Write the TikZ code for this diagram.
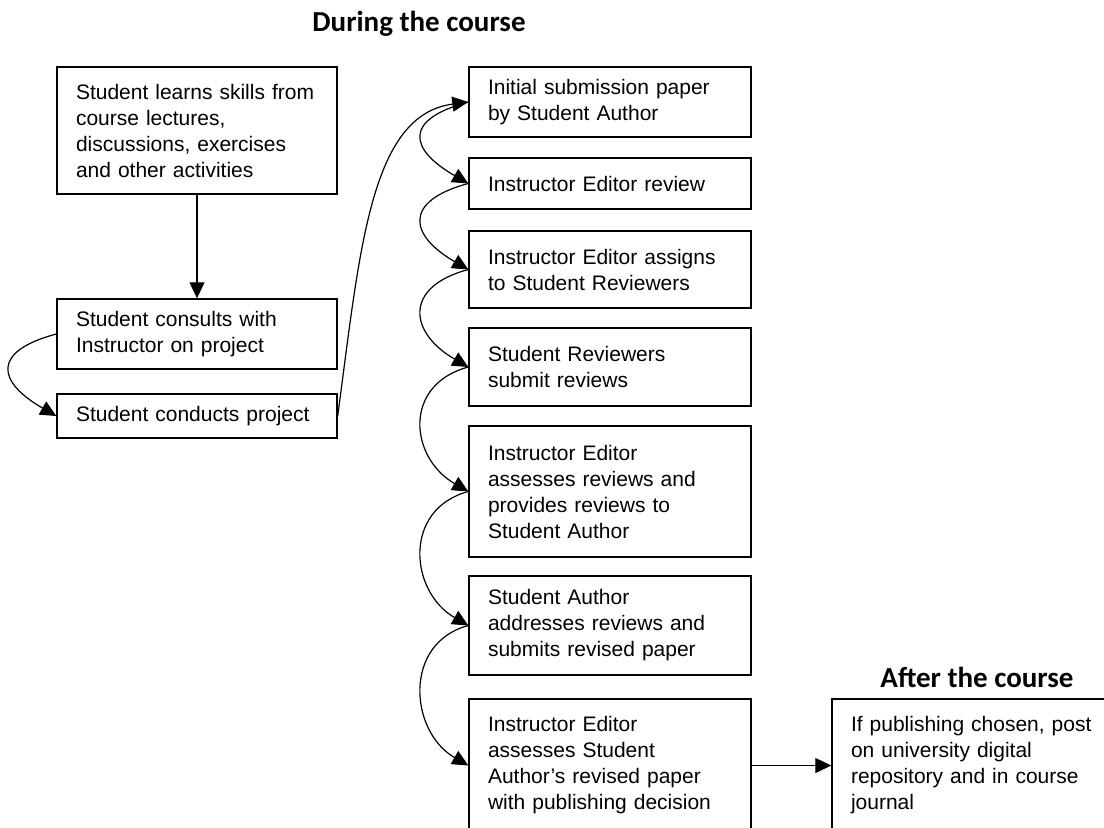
\documentclass[tikz,border=0pt]{standalone}
\usepackage{fontspec}
\setmainfont{Liberation Sans}
\newfontfamily\titlefont{Carlito}
\usetikzlibrary{arrows.meta}
\begin{document}
\begin{tikzpicture}[x=0.5pt,y=0.5pt,
  box/.style={draw, line width=0.7pt, inner xsep=9.5pt, inner ysep=0pt, align=left,
    font=\fontsize{10.5}{13}\selectfont},
  lbox/.style={box, text width=121pt, minimum width=140pt},
  rbox/.style={box, text width=122pt, minimum width=141pt},
  arr/.style={line width=0.6pt, -{Triangle[length=8pt,width=7.5pt]}},
  bendarr/.style={arr},
  titlelbl/.style={font=\titlefont\bfseries\fontsize{14.5}{17}\selectfont, anchor=base}]
\useasboundingbox (0,0) rectangle (1104,-827);
\clip (0,0) rectangle (1104,-827);

\node[titlelbl] (t1) at (419,-31) {During the course};
\node[titlelbl] (t2) at (977,-687) {After the course};

\node[lbox, minimum height=63.5pt] (a) at (197,-130.5) {Student learns skills from\\course lectures,\\discussions, exercises\\and other activities};
\node[lbox, minimum height=35pt] (b) at (197,-334) {Student consults with\\Instructor on project};
\node[lbox, minimum height=22pt] (c) at (197,-416) {Student conducts project};

\node[rbox, minimum height=35pt] (r1) at (610,-102) {Initial submission paper\\by Student Author};
\node[rbox, minimum height=25.5pt] (r2) at (610,-183.5) {Instructor Editor review};
\node[rbox, minimum height=38.5pt] (r3) at (610,-269.5) {Instructor Editor assigns\\to Student Reviewers};
\node[rbox, minimum height=39pt] (r4) at (610,-367) {Student Reviewers\\submit reviews};
\node[rbox, minimum height=65.5pt] (r5) at (610,-491.5) {Instructor Editor\\assesses reviews and\\provides reviews to\\Student Author};
\node[rbox, minimum height=49.5pt] (r6) at (610,-625.5) {Student Author\\addresses reviews and\\submits revised paper};
\node[rbox, minimum height=66.5pt] (r7) at (610,-765.5) {Instructor Editor\\assesses Student\\Author’s revised paper\\with publishing decision};
\node[rbox, minimum width=141.5pt, text width=122.5pt, minimum height=66.5pt] (r8) at (973.5,-765.5) {If publishing chosen, post\\on university digital\\repository and in course\\journal};

\draw[arr] (a) -- (b);
\draw[bendarr] (b.west) .. controls +(195:68) and +(150:68) .. (c.west);
\draw[arr] (c.east) .. controls (360,-250) and (370,-115) .. (r1.west);
\draw[bendarr] (r1.west) .. controls +(195:68) and +(150:68) .. (r2.west);
\draw[bendarr] (r2.west) .. controls +(195:68) and +(150:68) .. (r3.west);
\draw[bendarr] (r3.west) .. controls +(195:68) and +(150:68) .. (r4.west);
\draw[bendarr] (r4.west) .. controls +(195:68) and +(150:68) .. (r5.west);
\draw[bendarr] (r5.west) .. controls +(195:68) and +(150:68) .. (r6.west);
\draw[bendarr] (r6.west) .. controls +(195:68) and +(150:68) .. (r7.west);
\draw[arr] (r7) -- (r8);
\end{tikzpicture}
\end{document}
